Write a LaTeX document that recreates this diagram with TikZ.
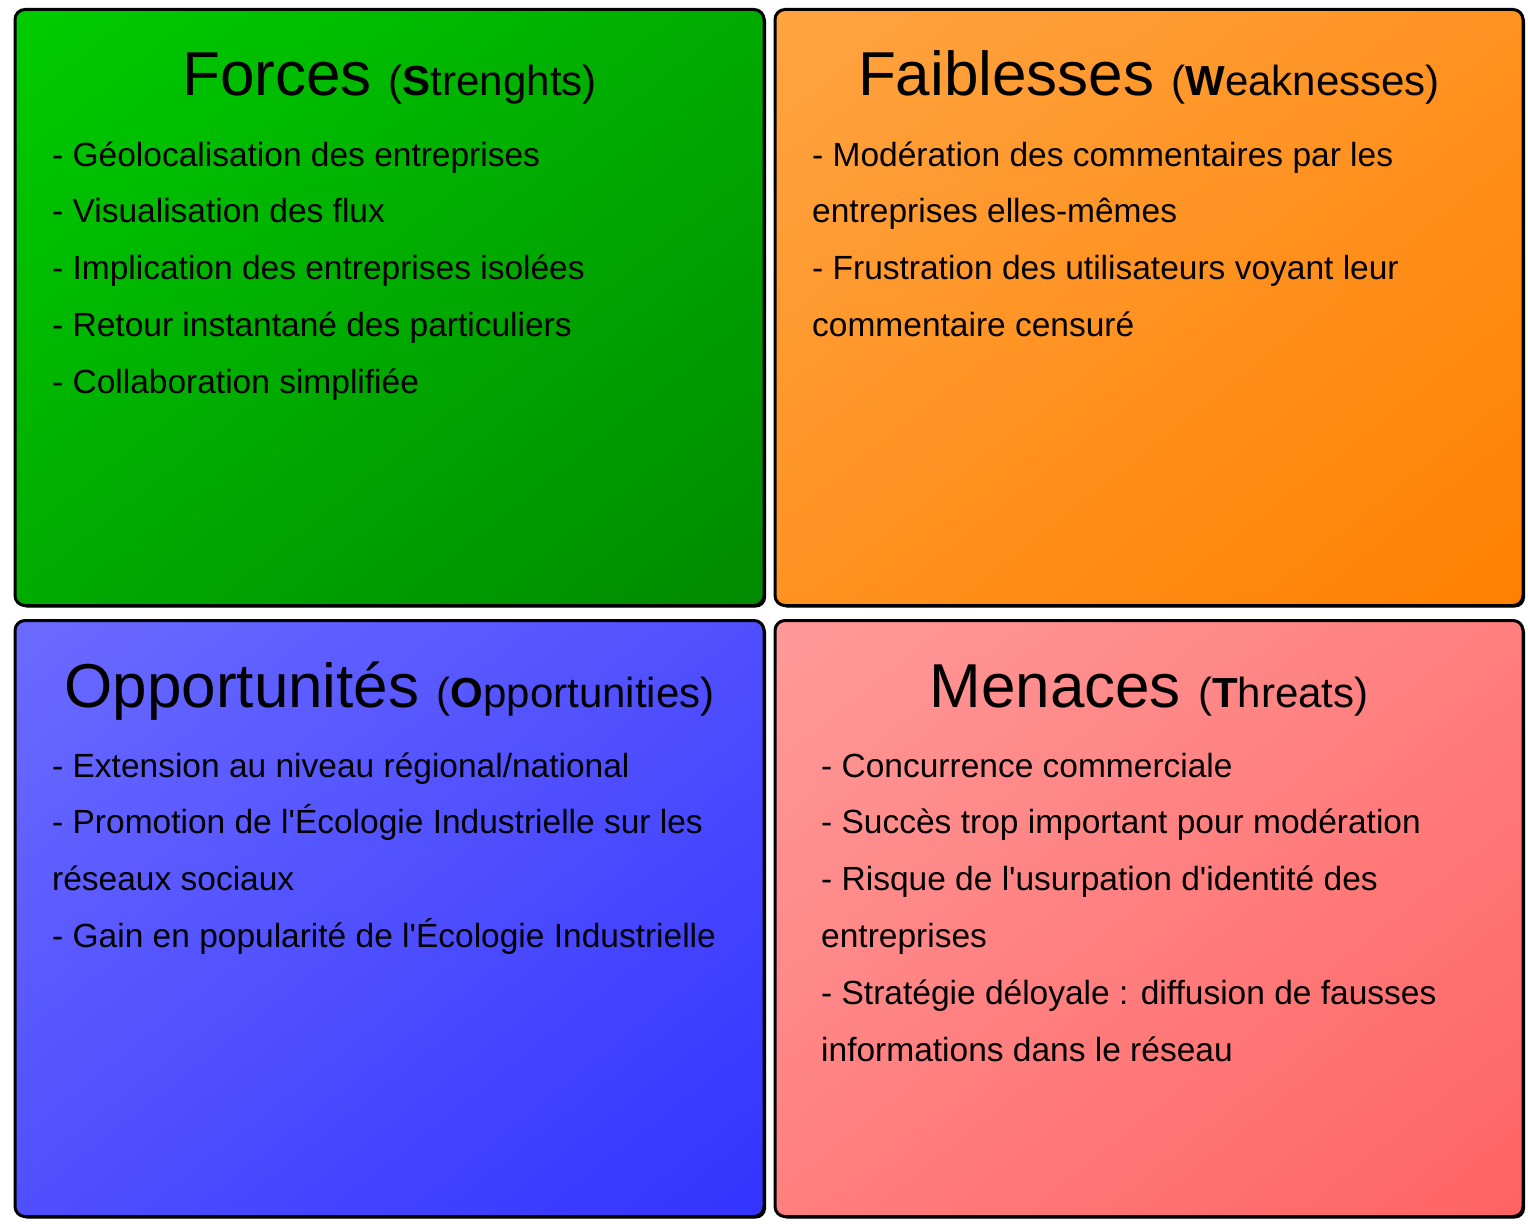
\documentclass[tikz,border=0pt]{standalone}
\usepackage{fontspec}
% plain family: no TeX ligature mapping, so ' stays a straight apostrophe
\newfontfamily\swotfont{Liberation Sans}
\usetikzlibrary{calc,shadings}

% SWOT palette: top-left and bottom-right colour of each quadrant
\definecolor{greenA}{HTML}{00CC00}
\definecolor{greenB}{HTML}{008A00}
\definecolor{orangeA}{HTML}{FFA442}
\definecolor{orangeB}{HTML}{FF8000}
\definecolor{blueA}{HTML}{6B6BFF}
\definecolor{blueB}{HTML}{3333FF}
\definecolor{redA}{HTML}{FF9A9A}
\definecolor{redB}{HTML}{FF6363}

\tikzset{
  panelshadow/.style={fill=black, rounded corners=10pt},
  panelframe/.style={draw=black, line width=3pt, rounded corners=10pt},
  paneltitle/.style={anchor=base, inner sep=0pt, font=\swotfont\fontsize{62}{62}\selectfont},
  panelline/.style={anchor=base west, inner sep=0pt,
    font=\swotfont\fontsize{33.5}{40}\selectfont},
}

\newcommand{\subtitle}[2]{{\fontsize{42}{42}\selectfont(\textbf{#1}#2)}}

% quadrant: #1 corner a, #2 corner b, #3 colour A, #4 colour B, #5 name
\newcommand{\quadrant}[5]{%
  \fill[panelshadow] ($#1+(2,2)$) rectangle ($#2+(2,2)$);
  \shade[rounded corners=10pt, upper left=#3, lower right=#4,
    upper right=#3!50!#4, lower left=#3!50!#4] #1 rectangle #2;
  \draw[panelframe] #1 rectangle #2;
  \coordinate (#5) at ($0.5*#1+0.5*#2$);
}

% list lines: #1 name prefix, #2 x, #3 first baseline, #4 lines
\newcommand{\panellist}[4]{%
  \foreach \txt [count=\i] in {#4}
    \node[panelline] (#1\i) at (#2,{#3+(\i-1)*56.9}) {\txt};
}

\begin{document}
\begin{tikzpicture}[x=1pt, y=-1pt]
  \useasboundingbox (0,0) rectangle (1528,1228);

  \quadrant{(15,9.5)}{(764,605.5)}{greenA}{greenB}{S}
  \quadrant{(775,9.5)}{(1523,605.5)}{orangeA}{orangeB}{W}
  \quadrant{(15,620.5)}{(764,1216.5)}{blueA}{blueB}{O}
  \quadrant{(775,620.5)}{(1523,1216.5)}{redA}{redB}{T}

  % titles
  \node[paneltitle] (tS) at (389.5,96) {Forces \subtitle{S}{trenghts}};
  \node[paneltitle] (tW) at (1149,96) {Faiblesses \subtitle{W}{eaknesses}};
  \node[paneltitle] (tO) at (389.5,707) {Opportunités \subtitle{O}{pportunities}};
  \node[paneltitle] (tT) at (1149,707) {Menaces \subtitle{T}{hreats}};

  % lists
  \panellist{s}{52}{166}{%
    - Géolocalisation des entreprises,
    - Visualisation des flux,
    - Implication des entreprises isolées,
    - Retour instantané des particuliers,
    - Collaboration simplifiée}
  \panellist{w}{812}{166}{%
    - Modération des commentaires par les,
    entreprises elles-mêmes,
    - Frustration des utilisateurs voyant leur,
    commentaire censuré}
  \panellist{o}{52}{777}{%
    - Extension au niveau régional/national,
    - Promotion de l'Écologie Industrielle sur les,
    réseaux sociaux,
    - Gain en popularité de l'Écologie Industrielle}
  \panellist{t}{821}{777}{%
    - Concurrence commerciale,
    - Succès trop important pour modération,
    - Risque de l'usurpation d'identité des,
    entreprises,
    - Stratégie déloyale : diffusion de fausses,
    informations dans le réseau}
\end{tikzpicture}
\end{document}
